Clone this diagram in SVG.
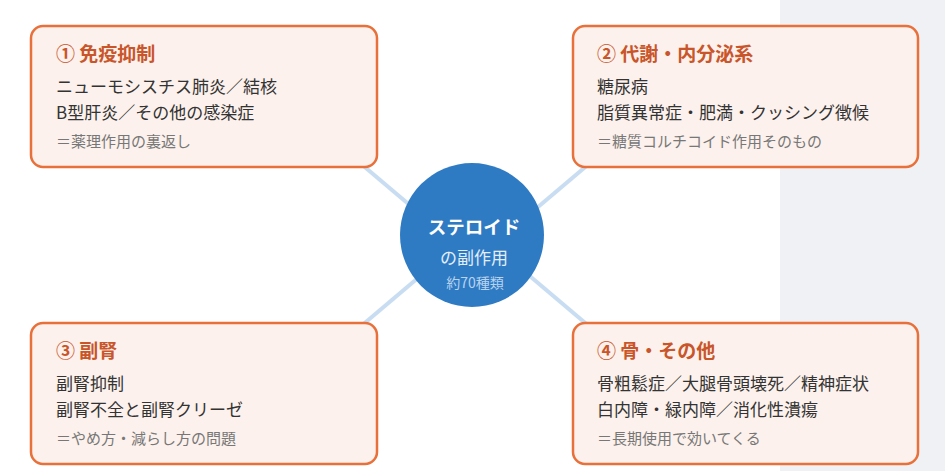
<svg xmlns="http://www.w3.org/2000/svg" width="945" height="471" viewBox="0 0 945 471">
<style>
.box{fill:#fcf1ec;stroke:#e8703a;stroke-width:2.5}
.t{font-family:"Noto Sans CJK JP","Noto Sans",sans-serif}
.h{font-size:19px;font-weight:bold;fill:#c9552a}
.b{font-size:17px;fill:#333}
.n{font-size:15px;fill:#777}
.c{stroke:#c8ddf2;stroke-width:4;fill:none}
</style>
<rect width="945" height="471" fill="#fff"/>
<rect x="780" y="0" width="165" height="471" fill="#f0f1f4"/>
<g id="connectors">
<line class="c" x1="360" y1="163" x2="425" y2="218"/>
<line class="c" x1="590" y1="163" x2="525" y2="218"/>
<line class="c" x1="360" y1="327" x2="425" y2="272"/>
<line class="c" x1="590" y1="327" x2="525" y2="272"/>
</g>
<g id="center">
<circle cx="472" cy="235" r="72" fill="#2e7bc4"/>
<text class="t" x="474" y="234" text-anchor="middle" font-size="18.5" font-weight="bold" fill="#fff">ステロイド</text>
<text class="t" x="474" y="264" text-anchor="middle" font-size="17" fill="#e4eef9">の副作用</text>
<text class="t" x="475" y="288" text-anchor="middle" font-size="14" fill="#b9d3ee">約70種類</text>
</g>
<g id="n1">
<rect class="box" x="31" y="26" width="346" height="141" rx="12"/>
<text class="t h" x="56" y="61">① 免疫抑制</text>
<text class="t b" x="56" y="93">ニューモシスチス肺炎／結核</text>
<text class="t b" x="56" y="119">B型肝炎／その他の感染症</text>
<text class="t n" x="56" y="147">＝薬理作用の裏返し</text>
</g>
<g id="n2">
<rect class="box" x="573" y="26" width="345" height="141" rx="12"/>
<text class="t h" x="597" y="61">② 代謝・内分泌系</text>
<text class="t b" x="597" y="93">糖尿病</text>
<text class="t b" x="597" y="119">脂質異常症・肥満・クッシング徴候</text>
<text class="t n" x="597" y="147">＝糖質コルチコイド作用そのもの</text>
</g>
<g id="n3">
<rect class="box" x="31" y="323" width="346" height="141" rx="12"/>
<text class="t h" x="56" y="358">③ 副腎</text>
<text class="t b" x="56" y="390">副腎抑制</text>
<text class="t b" x="56" y="416">副腎不全と副腎クリーゼ</text>
<text class="t n" x="56" y="444">＝やめ方・減らし方の問題</text>
</g>
<g id="n4">
<rect class="box" x="573" y="323" width="345" height="141" rx="12"/>
<text class="t h" x="597" y="358">④ 骨・その他</text>
<text class="t b" x="597" y="390">骨粗鬆症／大腿骨頭壊死／精神症状</text>
<text class="t b" x="597" y="416">白内障・緑内障／消化性潰瘍</text>
<text class="t n" x="597" y="444">＝長期使用で効いてくる</text>
</g>
</svg>
